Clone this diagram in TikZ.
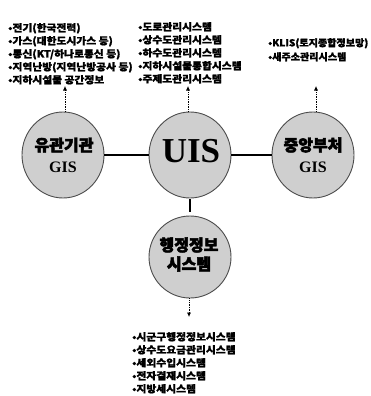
\documentclass[tikz,border=0pt]{standalone}
\usepackage{fontspec}
\setmainfont{Liberation Serif}
\newfontfamily\kr[FakeBold=1.6,FakeStretch=1.1]{Noto Sans CJK KR}
\newfontfamily\krr[FakeBold=1.6,FakeStretch=1.05]{Noto Sans CJK KR}
\newfontfamily\krh[FakeBold=3]{Noto Sans CJK KR}
\usetikzlibrary{shapes.geometric,arrows.meta}
\begin{document}
\begin{tikzpicture}[x=1pt,y=-1pt,
  hub/.style={ellipse, fill=gray!38, draw=black!70, line width=0.9pt,
    minimum width=82pt, minimum height=86pt, inner sep=0pt, align=center},
  listbox/.style={anchor=north west, inner sep=0pt, align=left,
    font=\kr\bfseries\fontsize{9.8}{13}\selectfont},
  link/.style={line width=1.8pt},
  feed/.style={densely dotted, line width=0.7pt, -{Latex[length=4.5pt,width=4pt]}},
  hg/.style={font=\krh\bfseries\fontsize{16}{18}\selectfont},
  gis/.style={font=\bfseries\fontsize{16}{18}\selectfont},
]
\useasboundingbox (0,0) rectangle (371,396);

% hubs
\node[hub] (L) at (63,155) {};
\node[hub] (U) at (190,155) {};
\node[hub] (R) at (313,155) {};
\node[hub, minimum height=82pt] (B) at (190,257) {};

\node[hg] (Lt1) at (64,145) {유관기관};
\node[gis] (Lt2) at (63,167) {GIS};
\node[font=\bfseries\fontsize{35}{37}\selectfont] (Ut) at (191,151) {UIS};
\node[hg] (Rt1) at (313,145) {중앙부처};
\node[gis] (Rt2) at (313,167) {GIS};
\node[hg] (Bt1) at (189,245) {행정정보};
\node[hg] (Bt2) at (189,264) {시스템};

% links
\draw[link] (L.east) -- (U.west);
\draw[link] (U.east) -- (R.west);
\draw[link, shorten <=1pt, shorten >=4pt] (U.south) -- (B.north);

% lists
\node[listbox] (Ll) at (8,23) {•전기(한국전력)\\•가스(대한도시가스 등)\\•통신(KT/하나로통신 등)\\•지역난방(지역난방공사 등)\\•지하시설물 공간정보};
\node[listbox] (Ul) at (138,22) {•도로관리시스템\\•상수도관리시스템\\•하수도관리시스템\\•지하시설물통합시스템\\•주제도관리시스템};
\node[listbox, font=\krr\bfseries\fontsize{9.6}{14}\selectfont] (Rl) at (268,38) {•KLIS(토지종합정보망)\\•새주소관리시스템};
\node[listbox] (Bl) at (132,332) {•시군구행정정보시스템\\•상수도요금관리시스템\\•세외수입시스템\\•전자결재시스템\\•지방세시스템};

% feeds
\coordinate (La) at (65,86);
\coordinate (Ua) at (188,86);
\coordinate (Ra) at (316,86);
\coordinate (Ba) at (189,317);
\draw[feed] (L.north -| La) -- (La);
\draw[feed] (U.north -| Ua) -- (Ua);
\draw[feed] (R.north -| Ra) -- (Ra);
\draw[feed] (B.south -| Ba) -- (Ba);
\end{tikzpicture}
\end{document}
